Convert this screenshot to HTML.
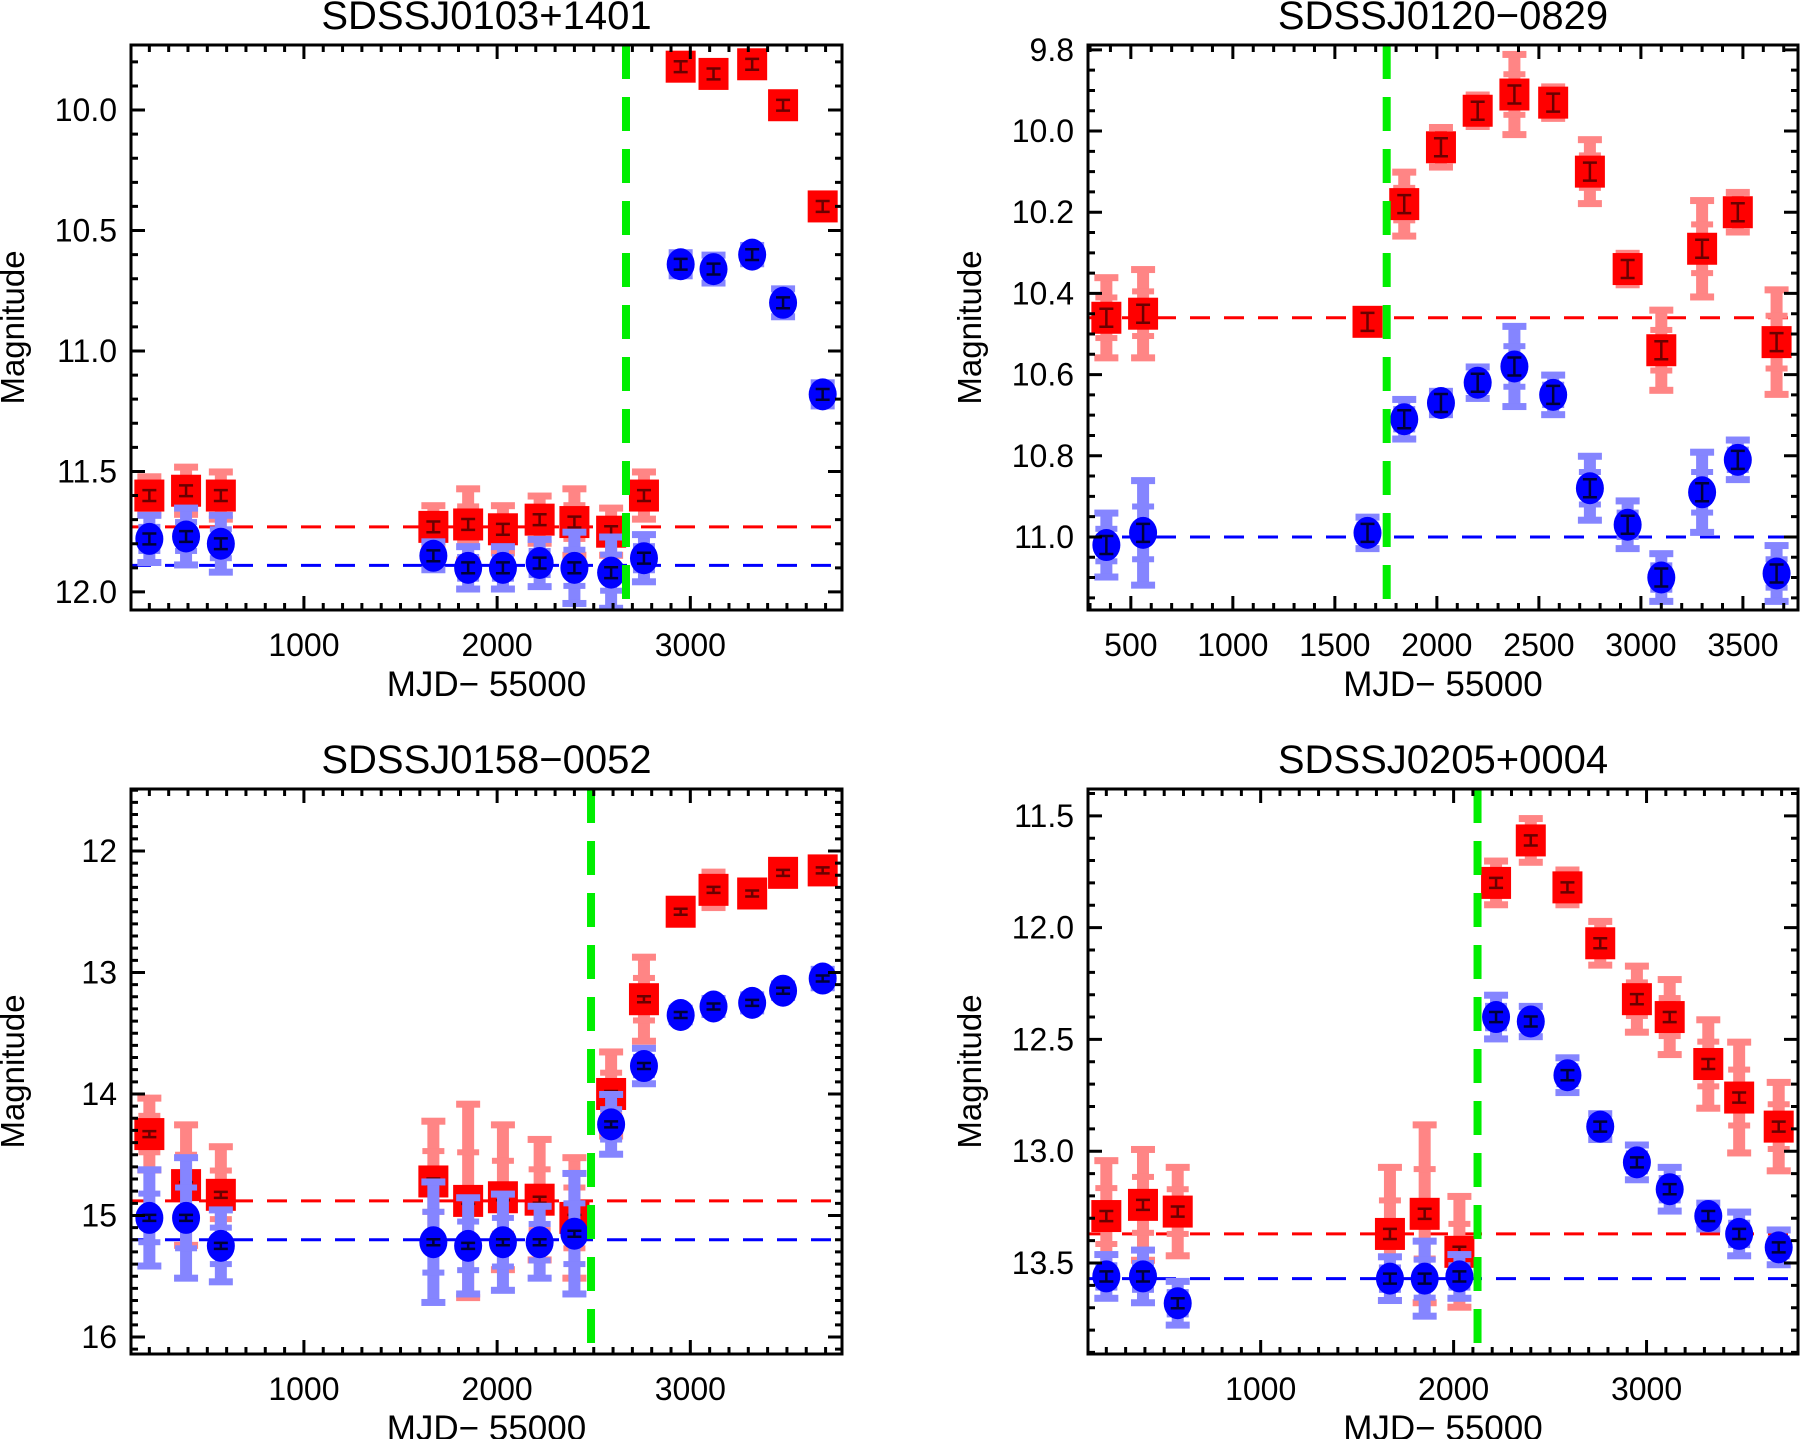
<!DOCTYPE html>
<html><head><meta charset="utf-8"><style>
html,body{margin:0;padding:0;background:#fff;}
svg{display:block;font-family:"Liberation Sans","DejaVu Sans",sans-serif;}
</style></head><body>
<svg id="fig" width="1800" height="1439" viewBox="0 0 1800 1439"></svg>
<script>
// ---- data ----
const xCommon = [200,390,570,1670,1850,2030,2220,2400,2590,2760,2950,3120,3320,3480,3685];
const xP2 = [380,560,1660,1840,2020,2200,2380,2570,2750,2935,3100,3300,3475,3665];

const p1Red = [11.6,11.58,11.6,11.73,11.72,11.74,11.7,11.71,11.75,11.6,9.82,9.85,9.81,9.98,10.4];
const p1Blue = [11.78,11.77,11.8,11.85,11.9,11.9,11.88,11.9,11.92,11.86,10.64,10.66,10.6,10.8,11.18];
const p1RedErr = [0.08,0.1,0.1,0.09,0.15,0.1,0.1,0.14,0.1,0.1,0.05,0.03,0.03,0.03,0.05];
const p1BlueErr = [0.1,0.12,0.12,0.06,0.09,0.09,0.1,0.15,0.15,0.1,0.05,0.06,0.04,0.06,0.05];

const p2Red = [10.46,10.45,10.47,10.18,10.04,9.95,9.91,9.93,10.1,10.34,10.54,10.29,10.2,10.52];
const p2Blue = [11.02,10.99,10.99,10.71,10.67,10.62,10.58,10.65,10.88,10.97,11.1,10.89,10.81,11.09];
const p2RedErr = [0.1,0.11,0.03,0.08,0.05,0.04,0.1,0.04,0.08,0.04,0.1,0.12,0.05,0.13];
const p2BlueErr = [0.08,0.13,0.04,0.05,0.03,0.04,0.1,0.05,0.08,0.06,0.06,0.1,0.05,0.07];

const p3Red = [14.33,14.75,14.83,14.72,14.88,14.85,14.87,15.02,14.0,13.22,12.5,12.32,12.35,12.18,12.16];
const p3Blue = [15.02,15.02,15.25,15.22,15.25,15.22,15.22,15.15,14.25,13.77,13.35,13.28,13.25,13.15,13.05];
const p3RedErr = [0.3,0.5,0.4,0.5,0.8,0.6,0.5,0.5,0.35,0.35,0.1,0.15,0.1,0.06,0.1];
const p3BlueErr = [0.4,0.5,0.3,0.5,0.4,0.4,0.3,0.5,0.25,0.15,0.06,0.07,0.07,0.06,0.08];

const p4Red = [13.29,13.24,13.27,13.37,13.28,13.45,11.8,11.61,11.82,12.07,12.32,12.4,12.61,12.76,12.89];
const p4Blue = [13.56,13.56,13.68,13.57,13.57,13.56,12.4,12.42,12.66,12.89,13.05,13.17,13.29,13.37,13.43];
const p4RedErr = [0.25,0.25,0.2,0.3,0.4,0.25,0.1,0.1,0.08,0.1,0.15,0.17,0.2,0.25,0.2];
const p4BlueErr = [0.1,0.12,0.1,0.1,0.17,0.1,0.1,0.07,0.08,0.06,0.08,0.1,0.06,0.1,0.08];

const titles = ["SDSSJ0103+1401","SDSSJ0120\u22120829","SDSSJ0158\u22120052","SDSSJ0205+0004"];
const redLevels = [11.73,10.46,14.88,13.37];
const blueLevels = [11.89,11.0,15.2,13.57];
const greenX = [2667,1754,2486,2124];

const panels = [
 {box:[131,45,842,610], xr:[105,3785], yr:[9.73,12.075], xMaj:1000,xMin:100, yMaj:0.5,yMin:0.1, dec:1, x:xCommon, red:p1Red, blue:p1Blue, rE:p1RedErr, bE:p1BlueErr},
 {box:[1088,45,1798,610], xr:[290,3770], yr:[9.788,11.18], xMaj:500,xMin:100, yMaj:0.2,yMin:0.05, dec:1, x:xP2, red:p2Red, blue:p2Blue, rE:p2RedErr, bE:p2BlueErr},
 {box:[131,789,842,1354], xr:[105,3785], yr:[11.49,16.14], xMaj:1000,xMin:100, yMaj:1,yMin:0.1, dec:0, x:xCommon, red:p3Red, blue:p3Blue, rE:p3RedErr, bE:p3BlueErr},
 {box:[1088,789,1798,1354], xr:[105,3785], yr:[11.38,13.907], xMaj:1000,xMin:100, yMaj:0.5,yMin:0.1, dec:1, x:xCommon, red:p4Red, blue:p4Blue, rE:p4RedErr, bE:p4BlueErr}
];

const NS="http://www.w3.org/2000/svg";
const svg=document.getElementById('fig');
function mk(tag,attrs,parent){const e=document.createElementNS(NS,tag);for(const k in attrs)e.setAttribute(k,attrs[k]);(parent||svg).appendChild(e);return e;}

panels.forEach((p,pi)=>{
  const [L,T,R,B]=p.box;
  const g=mk('g',{});
  
  
  const sx=v=>L+(v-p.xr[0])/(p.xr[1]-p.xr[0])*(R-L);
  const sy=v=>T+(v-p.yr[0])/(p.yr[1]-p.yr[0])*(B-T);
  const clip=mk('clipPath',{id:'clip'+pi},g);
  mk('rect',{x:L,y:T,width:R-L,height:B-T},clip);
  const plot=mk('g',{'clip-path':'url(#clip'+pi+')'},g);
  
  

  const rl=mk('line',{x1:L,x2:R,y1:sy(redLevels[pi]),y2:sy(redLevels[pi]),stroke:'#ff0000','stroke-width':3,'stroke-dasharray':'20 14'},plot);
  
  
  const bl=mk('line',{x1:L,x2:R,y1:sy(blueLevels[pi]),y2:sy(blueLevels[pi]),stroke:'#0000ff','stroke-width':3,'stroke-dasharray':'20 14'},plot);
  
  

  function series(vals,errs,col,light,dark,isRed){
    vals.forEach((v,i)=>{
      const cx=sx(p.x[i]), cy=sy(v), e=errs[i];
      const pg=mk('g',{},plot);
      
      
      const y1=sy(v-e), y2=sy(v+e);
      mk('rect',{x:cx-6,y:Math.min(y1,y2),width:12,height:Math.abs(y2-y1),fill:light},pg);
      mk('rect',{x:cx-12,y:y1-3,width:24,height:7,fill:light},pg);
      mk('rect',{x:cx-12,y:y2-4,width:24,height:7,fill:light},pg);
      const ym1=sy(v-e*0.5), ym2=sy(v+e*0.5);
      mk('rect',{x:cx-11,y:ym1-3,width:22,height:6,fill:light},pg);
      mk('rect',{x:cx-11,y:ym2-3,width:22,height:6,fill:light},pg);
      if(isRed) mk('rect',{x:cx-15,y:cy-16,width:30,height:32,fill:col},pg);
      else mk('ellipse',{cx:cx,cy:cy,rx:14,ry:16,fill:col},pg);
      const d=Math.max(3,Math.min(9,Math.abs(sy(v+0.015)-cy)*1.5));
      mk('path',{d:`M${cx-7},${cy-d}H${cx+7}M${cx-7},${cy+d}H${cx+7}M${cx},${cy-d}V${cy+d}`,stroke:dark,'stroke-width':2.5,fill:'none'},pg);
    });
  }
  series(p.red,p.rE,'#ff0000','#ff8585','#6a0000',true);
  series(p.blue,p.bE,'#0000ff','#8585ff','#00003a',false);

  const gl=mk('line',{x1:sx(greenX[pi]),x2:sx(greenX[pi]),y1:T,y2:B,stroke:'#00ee00','stroke-width':8,'stroke-dasharray':'34 18'},plot);
  
  

  const ax=mk('rect',{x:L,y:T,width:R-L,height:B-T,fill:'none',stroke:'#000','stroke-width':3},g);
  
  
  let tp='';
  const x0=Math.ceil(p.xr[0]/p.xMin)*p.xMin;
  for(let v=x0; v<=p.xr[1]; v+=p.xMin){
    const X=sx(v); const maj=Math.abs(v/p.xMaj-Math.round(v/p.xMaj))<1e-6; const len=maj?14:7;
    tp+=`M${X},${B}V${B-len}M${X},${T}V${T+len}`;
    if(maj){
      const t=mk('text',{x:X,y:B+46,'text-anchor':'middle','font-size':32},g);
      t.textContent=String(v);
      
      
    }
  }
  const y0=Math.ceil(p.yr[0]/p.yMin-1e-6)*p.yMin;
  for(let k=0;;k++){
    const v=+(y0+k*p.yMin).toFixed(4); if(v>p.yr[1]) break;
    const Y=sy(v); const r=v/p.yMaj; const maj=Math.abs(r-Math.round(r))<1e-6; const len=maj?14:7;
    tp+=`M${L},${Y}H${L+len}M${R},${Y}H${R-len}`;
    if(maj){
      const t=mk('text',{x:L-14,y:Y+11,'text-anchor':'end','font-size':32},g);
      t.textContent=v.toFixed(p.dec);
      
      
    }
  }
  mk('path',{d:tp,stroke:'#000','stroke-width':3,fill:'none'},g);

  const tt=mk('text',{x:(L+R)/2,y:T-16,'text-anchor':'middle','font-size':40},g);
  tt.textContent=titles[pi];
  
  
  const xt=mk('text',{x:(L+R)/2,y:B+86,'text-anchor':'middle','font-size':35},g);
  xt.textContent='MJD\u2212 55000';
  
  
  const yx=L-107, yy=(T+B)/2;
  const yt=mk('text',{x:yx,y:yy,'text-anchor':'middle','font-size':33,transform:`rotate(-90 ${yx} ${yy})`},g);
  yt.textContent='Magnitude';
  
  
});
</script>
</body></html>
